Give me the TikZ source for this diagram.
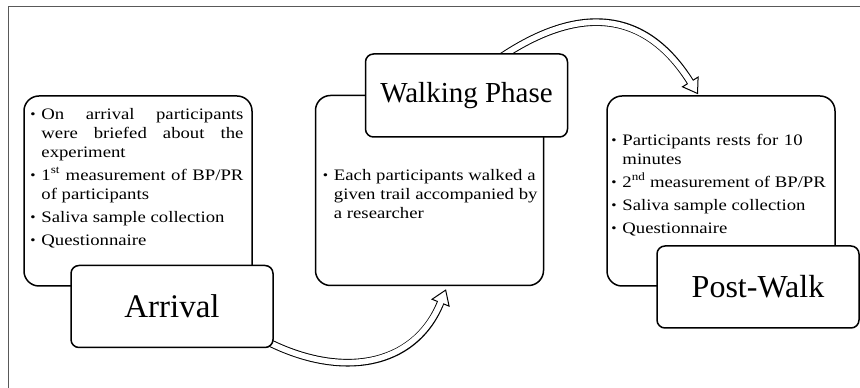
\documentclass[tikz,border=0pt]{standalone}
\usepackage{fontspec}
\setmainfont{Liberation Serif}
\newfontfamily\bodyfont[FakeStretch=1.17]{Liberation Serif}
\usepackage{tikz}
\usetikzlibrary{calc}
\usetikzlibrary{arrows.meta}
\usetikzlibrary{backgrounds}
\definecolor{frameGray}{rgb}{0.35,0.35,0.35}

% a bullet list of given width (bullets hang in the left margin)
\newcommand{\blist}[2]{\parbox[t]{#1}{\hyphenpenalty=10000 \tolerance=10000
  \parskip=4pt \leftskip=11pt\relax #2}}
\newcommand{\bitem}{\par\noindent
  \llap{\hbox to 11pt{\raisebox{0.8pt}{\scalebox{0.8}{\textbullet}}\hss}}}
\newcommand{\ragged}{\rightskip=0pt plus 80pt\relax}

\tikzset{
  textbox/.style={draw, line width=1.5pt, fill=white, rounded corners=15pt,
    minimum width=228pt, minimum height=190pt, inner sep=0pt},
  titlebox/.style={draw, line width=1.5pt, fill=white, rounded corners=8pt,
    minimum width=202pt, minimum height=82pt, inner sep=0pt},
  bullets/.style={anchor=base west, inner sep=0pt,
    font=\bodyfont\fontsize{16}{19}\selectfont},
  flow/.style={line width=7.6pt,
    -{Triangle[length=15pt,width=20pt,line width=1pt,fill=white]},
    postaction={draw=white, line width=5.6pt, -, shorten >=13pt}},
}

\begin{document}
\begin{tikzpicture}[x=1pt, y=1pt]
\useasboundingbox (0,0) rectangle (860,388);

%%%%%%%%%%%%%%%%%%%%%%%%%%%%%%%%%%%%%%%%%%%%%%%%%%%%%%%%%%%%%% Boxes
\node[textbox] (arrivalBox) at (138,197) {};
\node[textbox] (walkBox) at (429.5,197.5) {};
\node[textbox] (postBox) at (721,197) {};

\node[titlebox, font=\fontsize{33}{40}\selectfont] (arrivalTitle) at (172,81.5) {Arrival};
\node[titlebox, font=\fontsize{29}{35}\selectfont, minimum height=83pt] (walkTitle) at (466.5,292.5) {Walking Phase};
\node[titlebox, font=\fontsize{32}{38}\selectfont] (postTitle) at (758,101) {Post-Walk};

%%%%%%%%%%%%%%%%%%%%%%%%%%%%%%%%%%%%%%%%%%%%%%%%%%%%%%%%%%%%%% Lists
\node[bullets] (arrivalText) at ($(arrivalBox.north west)+(7,-24)$) {\blist{213pt}{%
  \bitem On arrival participants\linebreak were briefed about the\linebreak experiment
  \bitem 1\textsuperscript{st} measurement of BP/PR of participants
  \bitem Saliva sample collection
  \bitem Questionnaire}};

\node[bullets] (walkText) at ($(walkBox.north west)+(8,-86)$) {\blist{218pt}{\ragged
  \bitem Each participants walked a given trail accompanied by a researcher}};

\node[bullets] (postText) at ($(postBox.north west)+(5,-50)$) {\blist{224pt}{\ragged
  \bitem Participants rests for 10 minutes
  \bitem 2\textsuperscript{nd} measurement of BP/PR
  \bitem Saliva sample collection
  \bitem Questionnaire}};

%%%%%%%%%%%%%%%%%%%%%%%%%%%%%%%%%%%%%%%%%%%%%%%%%%%%%%%%%%%%%% Flow
\begin{pgfonlayer}{background}
\draw[frameGray, line width=1.8pt] (8.5,0) |- (860,381.5);

\coordinate (arrivalOut) at ($(arrivalTitle.south east)+(-11,9)$);
\coordinate (walkIn) at ($(walkBox.south)+(16.5,-3)$);
\coordinate (walkOut) at ($(walkTitle.north)+(28.5,-8)$);
\coordinate (postIn) at ($(postBox.north)+(-23,1)$);

\draw[flow] (arrivalOut) to[out=-28, in=-112, looseness=1.15] (walkIn);
\draw[flow] (walkOut) to[out=35, in=122, looseness=1.25] (postIn);
\end{pgfonlayer}

\end{tikzpicture}
\end{document}
